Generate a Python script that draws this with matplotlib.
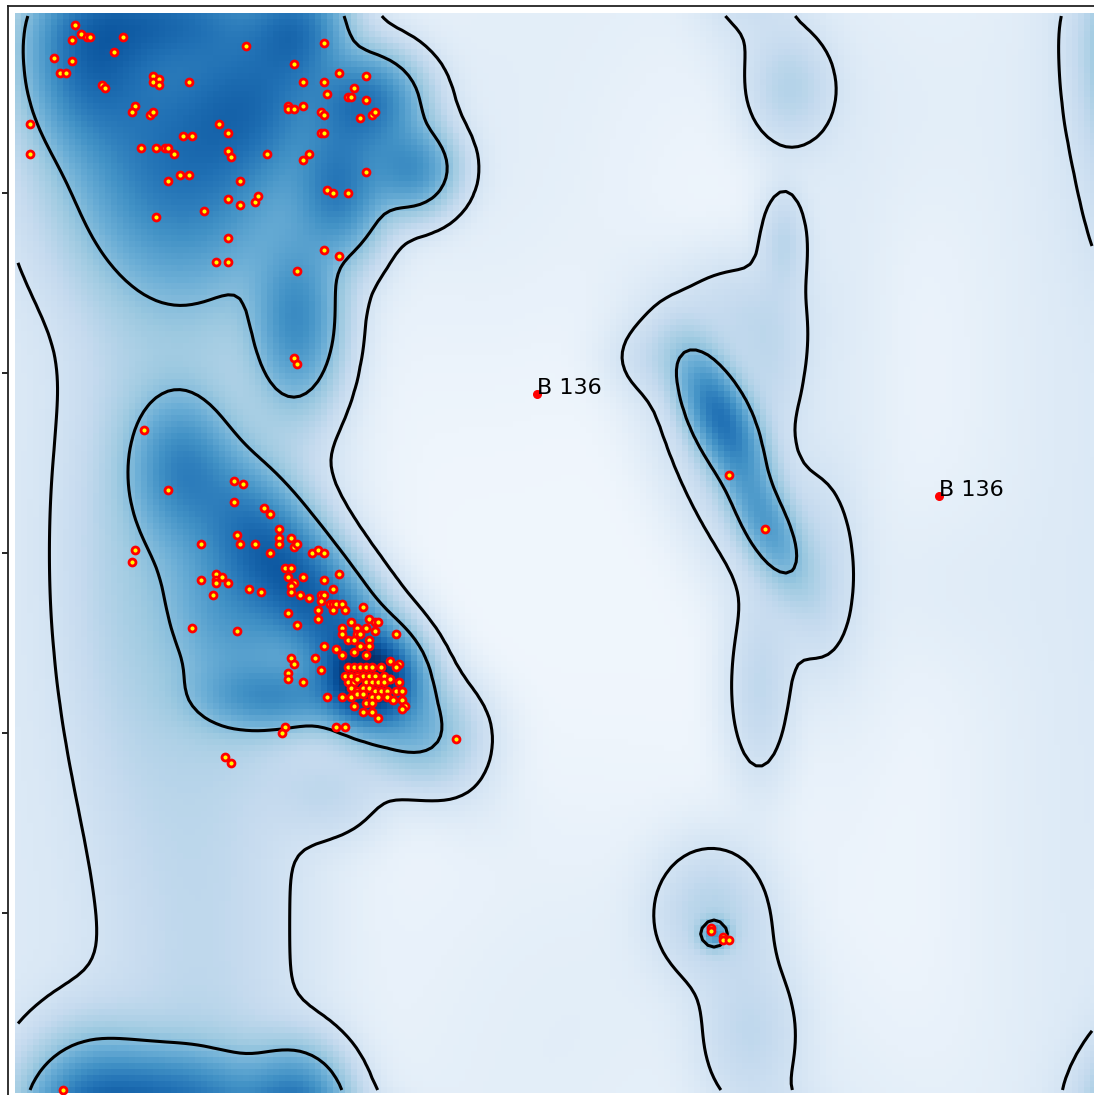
import numpy as np
import matplotlib
matplotlib.use("Agg")
import matplotlib.pyplot as plt
from matplotlib.colors import PowerNorm

# residues (phi, psi) in degrees
phi_pts = [-160, -161, -158, -156, -155, -144, -147, -167, -161, -165, -163, -151, -150, -103, -77, -87, -72, -63,
           -84, -77, -76, -67, -69, -68, -63, -134, -134, -132, -132, -122, -140, -141, -135, -134, -89, -89, -87,
           -84, -78, -77, -65, -61, -60, -78, -77, -112, -109, -124, -121, -138, -133, -130, -129, -127, -109, -108,
           -96, -84, -82, -63, -125, -122, -129, -105, -109, -105, -100, -99, -117, -133, -109, -76, -74, -69, -77,
           -72, -86, -113, -109, -175, -175, -87, -86,
           -137, -129, -107, -104, -107, -97, -95, -140, -141, -118, -106, -105, -100, -95, -92, -92, -92, -88, -87,
           -86, -81, -79, -77, -90, -88, -89, -87, -88, -88, -84, -85, -82, -77, -72, -74, -78, -77, -78, -118, -113,
           -113, -113, -111, -109, -114, -102, -98, -89, -79, -79, -86, -75, -74, -73, -71, -70, -74, -64, -68, -62,
           -60, -59, -66, -71, -121, -106,
           -71, -63, -60, -66, -65, -69, -67, -62, -62, -65, -53, -77, -73, -71, -67, -63, -88, -87, -80, -78, -89,
           -89, -84, -76, -71, -55, -52, -53,
           -69, -67, -65, -63, -61, -58, -70, -68, -66, -64, -62, -60, -57, -55, -69, -67, -66, -63, -61, -59, -57,
           -55, -52, -68, -66, -64, -62, -60, -58, -56, -53, -68, -66, -64, -61, -59, -56, -54, -51, -51, -67, -63,
           -61, -50, -51, -64, -61, -59,
           -90, -91, -73, -70, -110, -108, -33, -164,
           58, 70, 52, 52, 56, 56, 58]
psi_pts = [176, 171, 173, 172, 172, 172, 167, 165, 164, 160, 160, 156, 155, 169, 170, 163, 160, 159,
           157, 157, 153, 155, 152, 152, 151, 159, 157, 158, 156, 157, 149, 147, 146, 147, 149, 148, 148,
           149, 147, 146, 145, 146, 147, 140, 140, 143, 140, 139, 139, 135, 135, 135, 135, 133, 134, 132,
           133, 131, 133, 127, 126, 126, 124, 124, 118, 116, 117, 119, 114, 112, 105, 121, 120, 120, 101,
           99, 94, 97, 97, 143, 133, 65, 63,
           41, 21, 24, 23, 17, 15, 13, 1, -3, 3, 6, 3, 3, 0, 8, 5, 3, 5, 2,
           3, 0, 1, 0, -5, -5, -8, -10, -11, -13, -8, -14, -15, -9, -7, -12, -14, -14, -16, -9, -7,
           -9, -10, -8, -10, -14, -12, -13, -20, -19, -22, -24, -17, -17, -17, -17, -19, -19, -18, -23, -22,
           -23, -23, -25, -25, -25, -26,
           -27, -25, -26, -27, -27, -29, -29, -29, -31, -31, -27, -31, -32, -34, -33, -34, -35, -37, -35, -39, -40,
           -42, -43, -48, -48, -36, -37, -38,
           -38, -38, -38, -38, -38, -38, -41, -41, -41, -41, -41, -41, -41, -42, -43, -43, -42, -43, -43, -43, -43,
           -42, -43, -45, -46, -45, -45, -46, -46, -46, -46, -48, -47, -47, -48, -48, -48, -49, -46, -49, -51, -50,
           -50, -51, -52, -53, -53, -55,
           -58, -60, -58, -58, -68, -70, -62, -179,
           26, 8, -125, -126, -128, -129, -129]

# flagged outliers
out_phi = [-6, 128]
out_psi = [53, 19]
out_labels = ["B 136", "B 136"]

# reference density as gaussian components: centre, spreads, rotation, weight
comp_phi = [-62, -81, -105, -125, -92, -140, -45, -75,          # right-handed helix
            -125, -155, -63, -72, -48, -86, -86, -130, -100,    # beta / PPII
            -118,                                               # band between them
            55, 70, 60, 76, 68, 35, 88, 60, 72,                 # left-handed helix
            52, 65, 78, 53,                                     # phi > 0, psi ~ 180
            178, 95, -25, 10, 130, 110]                         # faint background
comp_psi = [-42, -15, -12, 28, -48, 0, -60, -80,
            132, 165, 150, 122, 128, 78, 174, 178, 150,
            0,
            45, 10, 25, 104, -45, 65, -5, 80, 62,
            -120, -160, 155, -127,
            0, 60, 130, -150, -10, 150]
comp_s1 = [9, 30, 14, 10, 15, 15, 12, 12,
           22, 13, 11, 9, 9, 9, 10, 20, 14,
           22,
           14, 14, 32, 5, 7, 10, 8, 14, 8,
           12, 11, 9, 3,
           25, 12, 30, 40, 20, 25]
comp_s2 = [9, 10, 24, 15, 7, 50, 10, 10,
           27, 18, 10, 14, 9, 18, 12, 10, 16,
           400,
           6, 5.5, 12, 11, 20, 8, 20, 12, 16,
           14, 18, 12, 3,
           400, 80, 40, 40, 20, 30]
comp_ang = [0, 129, 0, 0, 0, 0, 0, 0,
            0, 0, 0, 0, 0, 0, 0, 0, 0,
            0,
            -64, -64, -64, 0, 0, 0, 0, 0, 0,
            0, 0, 0, 0,
            0, 0, 0, 0, 0, 0]
comp_w = [1.0, 0.6, 0.3, 0.3, 0.3, 0.055, 0.1, 0.04,
          0.5, 0.5, 0.5, 0.45, 0.35, 0.36, 0.45, 0.4, 0.35,
          0.05,
          0.5, 0.25, 0.05, 0.05, 0.045, 0.03, 0.03, 0.035, 0.035,
          0.06, 0.045, 0.06, 0.27,
          0.008, 0.006, 0.004, 0.004, 0.004, 0.004]
floor = 0.0004
levels = [0.02, 0.15]


def wrap(d):
    return (d + 180) % 360 - 180


grid = np.arange(-179, 180, 2.0)
PHI, PSI = np.meshgrid(grid, grid)
dens = np.full(PHI.shape, floor)
for p0, q0, s1, s2, a, w in zip(comp_phi, comp_psi, comp_s1, comp_s2, comp_ang, comp_w):
    dx = wrap(PHI - p0)
    dy = wrap(PSI - q0)
    t = np.radians(a)
    u = dx * np.cos(t) + dy * np.sin(t)
    v = -dx * np.sin(t) + dy * np.cos(t)
    dens += w * np.exp(-0.5 * ((u / s1) ** 2 + (v / s2) ** 2))

fig = plt.figure(figsize=(10.94, 10.95), dpi=100)
ax = fig.add_axes([8 / 1094, 1 - 1106 / 1095, 1100 / 1094, 1100 / 1095])

ax.imshow(dens, origin="lower", extent=[-180, 180, -180, 180], cmap="Blues",
          norm=PowerNorm(gamma=0.42, vmin=0, vmax=1.1), interpolation="nearest", zorder=0)
ax.contour(PHI, PSI, dens, levels=levels, colors="black", linewidths=2.2, zorder=2)

ax.scatter(phi_pts, psi_pts, s=25, facecolor="yellow", edgecolor="red", linewidths=2.0, zorder=3)
ax.scatter(out_phi, out_psi, s=30, color="red", zorder=3)
for x, y, lab in zip(out_phi, out_psi, out_labels):
    ax.text(x, y, lab, fontsize=16, zorder=4)

ax.set_xlim(-180 - 7 / 3, -180 - 7 / 3 + 1100 / 3)
ax.set_ylim(180 + 7 / 3 - 1100 / 3, 180 + 7 / 3)
ax.set_aspect("auto")
ax.set_xticks([-120, -60, 0, 60, 120])
ax.set_yticks([-120, -60, 0, 60, 120])
ax.tick_params(left=True, bottom=True, top=False, right=False, labelleft=False, labelbottom=False,
               length=4, width=1.2, direction="out")
for sp in ax.spines.values():
    sp.set_linewidth(1.3)
    sp.set_color("#222222")

fig.savefig("out.png", dpi=100)
